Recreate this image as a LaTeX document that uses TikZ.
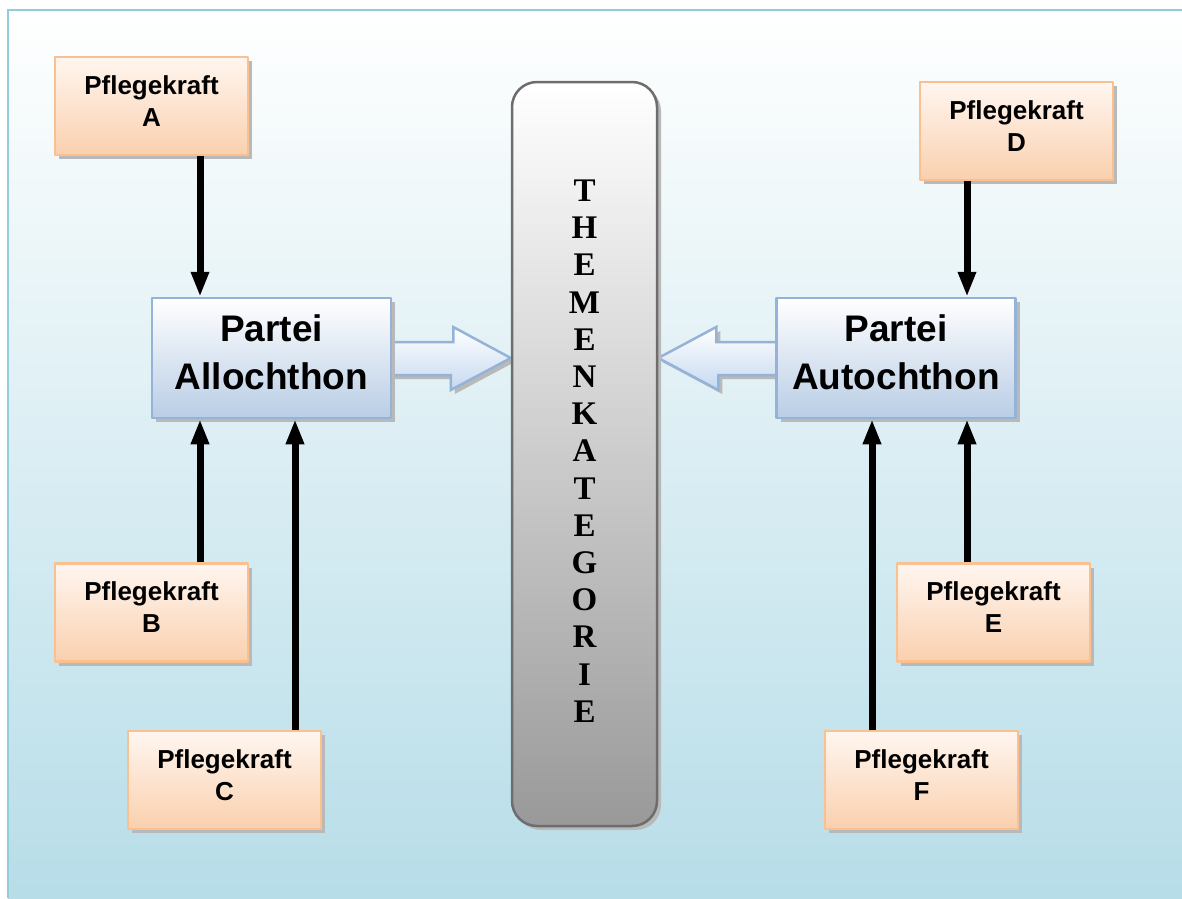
\documentclass[tikz,border=0pt]{standalone}
\usepackage{fontspec}
\setmainfont{Liberation Serif}
\setsansfont{Liberation Sans}
\usetikzlibrary{arrows.meta,shadows,backgrounds}
\definecolor{bgblue}{HTML}{B7DDE8}
\definecolor{frameblue}{HTML}{92CDDC}
\definecolor{orangeline}{HTML}{FAC090}
\definecolor{orangetop}{HTML}{FFF6F0}
\definecolor{orangebot}{HTML}{FAD0AE}
\definecolor{blueline}{HTML}{95B3D7}
\definecolor{bluebot}{HTML}{B9CDE5}
\definecolor{arrowbot}{HTML}{C6D9F1}
\definecolor{themaline}{HTML}{6D6D6D}
\definecolor{themabot}{HTML}{999999}
\begin{document}
\begin{tikzpicture}[x=1pt,y=-1pt,line join=round,
    boxshadow/.style={drop shadow={shadow xshift=4pt,shadow yshift=-4pt,fill=gray!55,opacity=1}},
    kraft/.style={draw=orangeline,line width=2.5,top color=orangetop,bottom color=orangebot,
        minimum width=193,minimum height=98,align=center,boxshadow,text depth=10pt,
        font=\sffamily\bfseries\fontsize{26}{32}\selectfont},
    partei/.style={draw=blueline,line width=2.5,top color=white,bottom color=bluebot,
        minimum width=239,minimum height=120,align=center,boxshadow,text depth=12pt,
        font=\sffamily\bfseries\fontsize{37}{48}\selectfont},
    blockarr/.style={draw=blueline,line width=2.5,top color=white,bottom color=arrowbot,boxshadow},
    feed/.style={line width=7,-{Triangle[length=25pt,width=17pt]}}]
\useasboundingbox (0,0) rectangle (1182,898);
% Kategorie in der Mitte
\node[draw=themaline,line width=2.5,rounded corners=25,top color=white,bottom color=themabot,
    minimum width=145,minimum height=744,boxshadow] (thema) at (584.5,454) {};
\node[font=\rmfamily\bfseries\fontsize{33}{37.2}\selectfont,align=center] (themaText) at (584.5,451)
    {T\\H\\E\\M\\E\\N\\K\\A\\T\\E\\G\\O\\R\\I\\E};
% Parteien
\node[partei] (allo) at (271.5,358) {Partei\\Allochthon};
\node[partei] (auto) at (896,358) {Partei\\Autochthon};
% Pflegekraefte
\node[kraft] (pfA) at (151.5,106) {Pflegekraft\\A};
\node[kraft] (pfB) at (151.5,612.5) {Pflegekraft\\B};
\node[kraft] (pfC) at (224.5,780) {Pflegekraft\\C};
\node[kraft] (pfD) at (1016.5,131) {Pflegekraft\\D};
\node[kraft] (pfE) at (993.5,612.5) {Pflegekraft\\E};
\node[kraft] (pfF) at (921.5,780) {Pflegekraft\\F};
\coordinate (xAB) at (200,0);
\coordinate (xC) at (295,0);
\coordinate (xDE) at (967,0);
\coordinate (xF) at (872,0);
\draw[feed] (pfA.south -| xAB)--(allo.north -| xAB);
\draw[feed] (pfB.north -| xAB)--(allo.south -| xAB);
\draw[feed] (pfC.north -| xC)--(allo.south -| xC);
\draw[feed] (pfD.south -| xDE)--(auto.north -| xDE);
\draw[feed] (pfE.north -| xDE)--(auto.south -| xDE);
\draw[feed] (pfF.north -| xF)--(auto.south -| xF);
\begin{scope}[on background layer]
    \fill[top color=white,bottom color=bgblue,shading angle=0] (8,10) rectangle (1182,898);
    \draw[frameblue,line width=2.5] (8,898)--(8,10)--(1182,10);
    \draw[blockarr] (allo.east) ++(-10,-16) -- ++(71,0) -- ++(0,-15) -- (thema.west |- allo.east)
        -- ++(-60,32) -- ++(0,-15) -- ++(-71,0) -- cycle;
    \draw[blockarr] (auto.west) ++(10,-16) -- ++(-69,0) -- ++(0,-15) -- (thema.east |- auto.west)
        -- ++(60,32) -- ++(0,-15) -- ++(69,0) -- cycle;
\end{scope}
\end{tikzpicture}
\end{document}
